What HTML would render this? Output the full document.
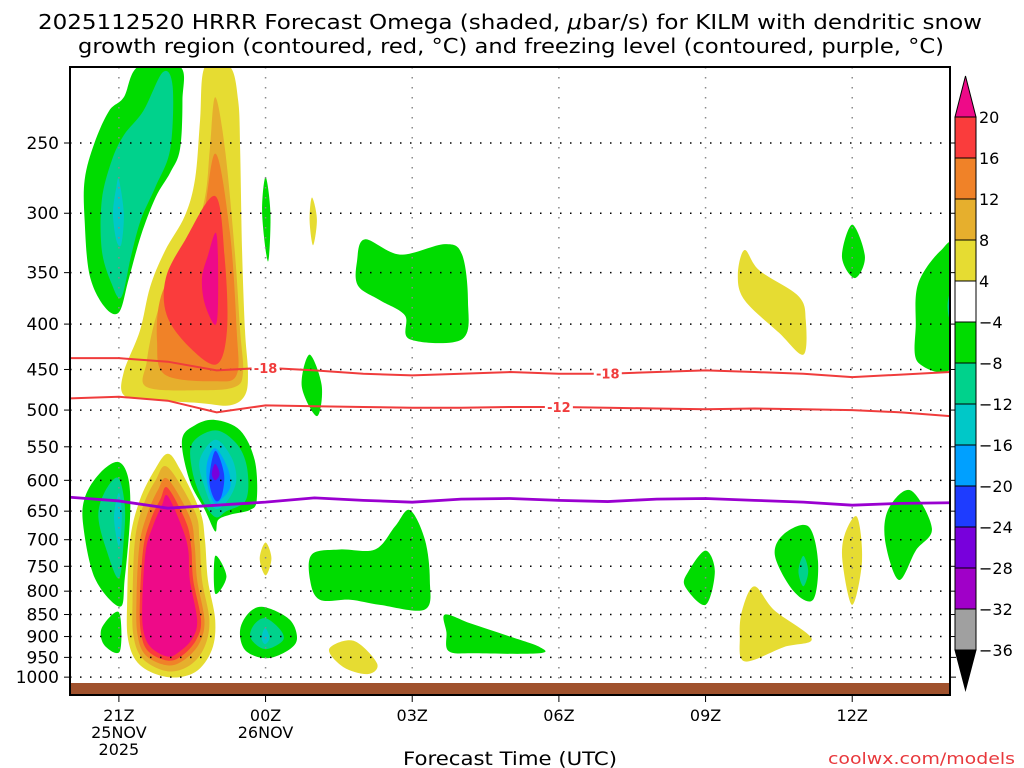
<!DOCTYPE html>
<html><head><meta charset="utf-8"><style>
html,body{margin:0;padding:0;background:#fff;}
svg{display:block;font-family:"DejaVu Sans","Liberation Sans",sans-serif;}
</style></head><body>
<svg id="chart" width="1024" height="768" viewBox="0 0 1024 768">
<text x="38" y="29" font-size="20" textLength="944" lengthAdjust="spacingAndGlyphs" fill="#000">2025112520 HRRR Forecast Omega (shaded, <tspan font-style="italic">μ</tspan>bar/s) for KILM with dendritic snow</text>
<text x="78" y="53" font-size="20" textLength="866" lengthAdjust="spacingAndGlyphs" fill="#000">growth region (contoured, red, °C) and freezing level (contoured, purple, °C)</text>
<g id="plot"></g>
<rect x="70" y="67" width="880" height="628" fill="none" stroke="#000" stroke-width="2"/>
<g id="yaxis"></g>
<g id="xaxis"></g>
<text x="403" y="765" font-size="19" textLength="214" lengthAdjust="spacingAndGlyphs" fill="#000">Forecast Time (UTC)</text>
<text x="828" y="764" font-size="16" textLength="187" lengthAdjust="spacingAndGlyphs" fill="#e8383c">coolwx.com/models</text>
<g id="cbar"></g>
</svg>
<script>
const NS="http://www.w3.org/2000/svg";
// ---- data ----
const pressureTicks=[250,300,350,400,450,500,550,600,650,700,750,800,850,900,950,1000];
const timeTickHours=[21,24,27,30,33,36];
const timeTickLabels=[["21Z","25NOV","2025"],["00Z","26NOV"],["03Z"],["06Z"],["09Z"],["12Z"]];
const lineHours=[20,21,22,23,24,25,26,27,28,29,30,31,32,33,34,35,36,37,38];
const dgzMinus18=[437,437,441,451,448,451,455,457,455,453,455,455,453,451,453,455,459,456,453];
const dgzMinus12=[485,483,488,503,494,495,496,497,497,496,496,497,498,499,498,499,500,503,508];
const freezingLevel=[627,633,645,640,635,628,632,635,630,629,632,634,630,629,632,635,640,637,636];
const cbarLevels=["20","16","12","8","4","−4","−8","−12","−16","−20","−24","−28","−32","−36"];
const cbarColors=["#fa3c3c","#f08228","#e6af2d","#e6dc32","#ffffff","#00dc00","#00d28c","#00c8c8","#00a0ff","#1e3cff","#7800dc","#a000c8","#a0a0a0"];
// shaded omega regions: [colorIndex, points [hour, hPa]]
const shadedRegions=[
 [5,[[21.4,205],[22.25,205],[22.3,224],[22.25,254],[22.05,270],[21.75,288],[21.45,318],[21.2,356],[21.0,388],[20.7,382],[20.4,352],[20.3,306],[20.3,275],[20.5,250],[20.8,230],[21.1,222]]],
 [6,[[21.9,208],[22.1,216],[22.05,254],[21.75,280],[21.45,305],[21.25,335],[21.05,373],[20.85,360],[20.65,330],[20.65,290],[20.85,262],[21.1,245],[21.5,230]]],
 [7,[[21.0,275],[21.1,300],[21.05,325],[20.95,322],[20.88,300],[20.95,280]]],
 [3,[[22.76,205],[23.27,205],[23.44,224],[23.48,254],[23.52,331],[23.58,407],[23.64,453],[23.58,481],[23.27,494],[22.66,491],[21.64,487],[21.1,481],[21.1,453],[21.43,407],[21.64,363],[21.94,331],[22.35,302],[22.56,274],[22.66,236]]],
 [2,[[22.97,222],[23.17,254],[23.37,331],[23.48,407],[23.54,453],[23.37,471],[22.66,475],[21.57,471],[21.57,441],[21.74,396],[22.04,358],[22.45,331],[22.76,288],[22.86,254]]],
 [1,[[22.97,257],[23.27,315],[23.41,407],[23.41,456],[22.97,464],[21.94,456],[21.78,418],[21.84,376],[22.15,345],[22.66,315]]],
 [0,[[22.97,287],[23.17,340],[23.21,407],[23.0,444],[22.45,425],[21.98,391],[21.96,355],[22.35,322]]],
 [-1,[[22.99,316],[23.03,355],[22.99,400],[22.76,380],[22.7,355],[22.82,335]]],
 [5,[[24.0,273],[24.1,300],[24.05,340],[23.93,300]]],
 [3,[[24.95,288],[25.05,305],[24.97,326],[24.9,305]]],
 [5,[[26.03,321],[26.75,334],[27.67,325],[28.02,334],[28.14,376],[28.02,416],[26.95,416],[26.85,391],[26.34,376],[25.89,362],[25.87,340]]],
 [3,[[33.8,330],[34.1,348],[34.9,372],[35.05,396],[35.0,433],[34.5,409],[33.8,376],[33.66,352]]],
 [5,[[36.0,309],[36.26,336],[36.05,355],[35.79,336]]],
 [5,[[37.8,331],[38.1,331],[38.1,442],[37.35,442],[37.3,400],[37.35,360]]],
 [6,[[38.0,370],[38.1,380],[38.0,395],[37.95,382]]],
 [5,[[24.9,433],[25.15,470],[25.05,508],[24.74,470]]],
 [5,[[20.98,572],[21.19,596],[21.23,657],[21.12,774],[21.02,833],[20.51,774],[20.27,674],[20.31,626],[20.61,589]]],
 [6,[[20.98,596],[21.12,640],[21.1,700],[21.0,774],[20.75,720],[20.58,660],[20.7,620]]],
 [7,[[21.0,620],[21.06,660],[21.0,712],[20.9,660]]],
 [5,[[21.0,845],[21.02,935],[20.7,920],[20.65,880]]],
 [3,[[22.0,560],[22.25,583],[22.66,650],[22.76,700],[22.82,777],[22.97,862],[22.9,932],[22.56,987],[22.0,1000],[21.43,969],[21.19,908],[21.17,818],[21.23,700],[21.43,631],[21.74,583]]],
 [2,[[22.0,580],[22.55,650],[22.65,700],[22.7,777],[22.85,862],[22.75,925],[22.45,970],[22.0,985],[21.5,955],[21.3,900],[21.28,818],[21.33,700],[21.5,640],[21.75,600]]],
 [1,[[22.0,598],[22.45,660],[22.55,710],[22.6,777],[22.75,862],[22.65,915],[22.35,955],[22.0,970],[21.55,945],[21.38,895],[21.36,818],[21.42,710],[21.58,655],[21.8,615]]],
 [0,[[22.0,612],[22.38,670],[22.48,715],[22.52,777],[22.68,862],[22.58,908],[22.3,945],[22.0,958],[21.6,935],[21.45,890],[21.43,818],[21.5,715],[21.65,665],[21.85,630]]],
 [-1,[[22.0,625],[22.3,680],[22.42,720],[22.45,777],[22.6,862],[22.5,905],[22.25,935],[22.0,948],[21.65,925],[21.5,885],[21.48,818],[21.55,720],[21.7,675],[21.88,640]]],
 [5,[[22.97,513],[23.48,527],[23.78,570],[23.82,631],[23.68,648],[23.27,656],[23.03,665],[22.97,685],[22.76,648],[22.45,601],[22.29,541],[22.56,520]]],
 [6,[[22.97,527],[23.4,545],[23.62,580],[23.6,631],[23.2,650],[22.97,660],[22.7,630],[22.5,585],[22.5,545]]],
 [7,[[22.97,540],[23.3,565],[23.4,601],[23.2,635],[22.95,645],[22.75,610],[22.65,570]]],
 [8,[[22.97,552],[23.22,580],[23.28,610],[23.1,630],[22.95,636],[22.82,610],[22.8,575]]],
 [9,[[22.97,556],[23.15,590],[23.1,625],[22.97,632],[22.85,600]]],
 [10,[[22.97,575],[23.06,590],[22.97,600],[22.9,590]]],
 [5,[[22.97,730],[23.2,770],[22.97,805]]],
 [3,[[24.0,705],[24.12,735],[24.0,768],[23.88,735]]],
 [5,[[23.99,834],[24.5,862],[24.64,908],[24.4,937],[23.99,952],[23.58,932],[23.48,884],[23.68,844]]],
 [6,[[23.99,858],[24.3,884],[24.35,910],[23.99,930],[23.7,905],[23.75,875]]],
 [7,[[23.99,880],[24.08,903],[23.99,918],[23.92,903]]],
 [5,[[26.95,648],[27.26,700],[27.36,777],[27.26,839],[26.34,829],[25.73,818],[25.11,818],[24.91,777],[24.95,727],[25.52,718],[26.24,718],[26.65,676]]],
 [3,[[25.3,930],[25.8,910],[26.28,965],[26.1,992],[25.6,975]]],
 [5,[[27.67,850],[28.2,870],[29.0,900],[29.61,925],[29.6,940],[28.3,940],[27.75,935],[27.7,890]]],
 [5,[[33.0,720],[33.19,760],[33.0,829],[32.58,790],[32.65,760]]],
 [3,[[34.0,790],[34.4,840],[35.17,905],[34.6,925],[33.8,960],[33.7,900],[33.75,840]]],
 [5,[[35.1,676],[35.3,740],[35.2,818],[34.8,800],[34.42,730],[34.6,690]]],
 [6,[[35.0,730],[35.1,760],[35.0,790],[34.9,760]]],
 [3,[[36.1,660],[36.2,740],[36.0,829],[35.8,740],[35.85,690]]],
 [5,[[37.2,616],[37.63,680],[37.3,720],[36.95,777],[36.67,700],[36.75,645]]]
];
// ---- scales ----
const X0=70,X1=950,H0=20,H1=38;
const xs=h=>X0+(h-H0)*(X1-X0)/(H1-H0);
const ys=p=>143+Math.log(p/250)*385.3;
function el(t,a,parent){const e=document.createElementNS(NS,t);for(const k in a)e.setAttribute(k,a[k]);parent.appendChild(e);return e;}
const plot=document.getElementById('plot');
const clip=el('clipPath',{id:'pc'},el('defs',{},plot));
el('rect',{x:X0,y:67,width:X1-X0,height:628},clip);
const g=el('g',{'clip-path':'url(#pc)'},plot);
function smooth(pts){
 const n=pts.length;let d=`M${pts[0][0]},${pts[0][1]}`;
 for(let i=0;i<n;i++){const p0=pts[(i-1+n)%n],p1=pts[i],p2=pts[(i+1)%n],p3=pts[(i+2)%n];
  d+=` C${p1[0]+(p2[0]-p0[0])/6},${p1[1]+(p2[1]-p0[1])/6} ${p2[0]-(p3[0]-p1[0])/6},${p2[1]-(p3[1]-p1[1])/6} ${p2[0]},${p2[1]}`;}
 return d+'Z';
}
shadedRegions.forEach((r,i)=>{
 const pts=r[1].map(q=>[xs(q[0]),ys(q[1])]);
 const p=el('path',{d:smooth(pts),fill:r[0]<0?'#ee0a88':cbarColors[r[0]]},g);
 
 
});
// grid
pressureTicks.forEach(p=>{const l=el('line',{x1:X0,x2:X1,y1:ys(p),y2:ys(p),stroke:'#000','stroke-width':1.5,'stroke-dasharray':'1.5 8.5'},g);
 
 });
timeTickHours.forEach(h=>{const l=el('line',{x1:xs(h),x2:xs(h),y1:67,y2:695,stroke:'#888','stroke-width':1.5,'stroke-dasharray':'1.5 8.5'},g);
 
 });
// ground
const gr=el('rect',{x:X0,y:683,width:X1-X0,height:12,fill:'#a0522d'},g);


function line(arr,color,name,w){
 const d=arr.map((p,i)=>(i?'L':'M')+xs(lineHours[i])+','+ys(p)).join(' ');
 const l=el('path',{d,fill:'none',stroke:color,'stroke-width':w},g);
 
 
}
line(dgzMinus18,'#f03c3c','dgz-minus18-line',2);
line(dgzMinus12,'#f03c3c','dgz-minus12-line',2);
line(freezingLevel,'#9a00d0','freezing-level-line',2.8);
function clabel(txt,h,arr,name){
 const i=lineHours.indexOf(Math.round(h));const y=ys(arr[i]);
 el('rect',{x:xs(h)-14,y:y-7,width:28,height:14,fill:'#fff'},g);
 const t=el('text',{x:xs(h),y:y+5,'font-size':13,'font-weight':'bold','text-anchor':'middle',fill:'#f03c3c'},g);t.textContent=txt;
 
 
}
clabel('-18',24,dgzMinus18,'label-minus18-a');
clabel('-18',31,dgzMinus18,'label-minus18-b');
clabel('-12',30,dgzMinus12,'label-minus12');
// axes
const ya=document.getElementById('yaxis');
pressureTicks.forEach(p=>{
 el('line',{x1:X0,x2:X0-6,y1:ys(p),y2:ys(p),stroke:'#000'},ya);
 el('line',{x1:X1,x2:X1+6,y1:ys(p),y2:ys(p),stroke:'#000'},ya);
 const t=el('text',{x:59,y:ys(p)+6,'font-size':17,'text-anchor':'end',fill:'#000'},ya);t.textContent=p;
 
 
});
const xa=document.getElementById('xaxis');
timeTickHours.forEach((h,i)=>{
 el('line',{x1:xs(h),x2:xs(h),y1:695,y2:702,stroke:'#000'},xa);
 timeTickLabels[i].forEach((s,j)=>{const t=el('text',{x:xs(h),y:721+j*17,'font-size':16,'text-anchor':'middle',fill:'#000'},xa);t.textContent=s;
  
  });
});
// colorbar
const cb=document.getElementById('cbar');
const CX=955,CW=21,CT=117,BH=41;
el('path',{d:`M${CX},${CT} L${CX+CW/2},76 L${CX+CW},${CT}Z`,fill:'#ee0a88',stroke:'#000'},cb);
cbarColors.forEach((c,i)=>{const r=el('rect',{x:CX,y:CT+i*BH,width:CW,height:BH,fill:c,stroke:'#000'},cb);
 
 });
const CB=CT+cbarColors.length*BH;
el('path',{d:`M${CX},${CB} L${CX+CW/2},690 L${CX+CW},${CB}Z`,fill:'#000',stroke:'#000'},cb);
cbarLevels.forEach((s,i)=>{const t=el('text',{x:979,y:CT+i*BH+6,'font-size':16,fill:'#000'},cb);t.textContent=s;
 
 });
</script>
</body></html>
